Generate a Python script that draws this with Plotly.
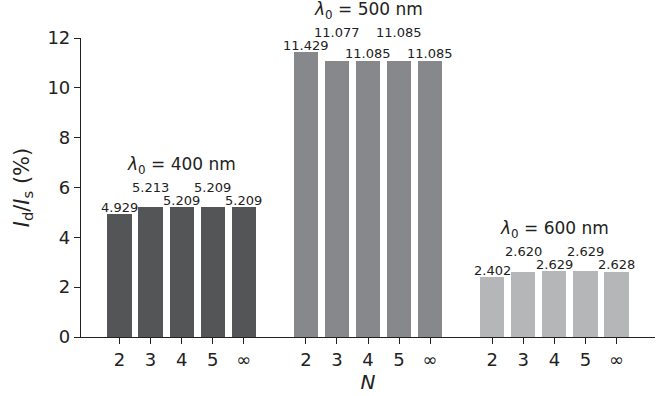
import plotly.graph_objects as go

# ---- data ----
n_labels = ["2", "3", "4", "5", "∞"]
groups = ["400", "500", "600"]
vals_400 = [4.929, 5.213, 5.209, 5.209, 5.209]
vals_500 = [11.429, 11.077, 11.085, 11.085, 11.085]
vals_600 = [2.402, 2.620, 2.629, 2.629, 2.628]
series = [vals_400, vals_500, vals_600]
colors = ["#545557", "#87888b", "#b5b6b8"]

FONT = "DejaVu Sans"
fig = go.Figure()
annotations = []
tickvals, ticktext = [], []
for g, (name, vals, col) in enumerate(zip(groups, series, colors)):
    xs = [g * 6 + i for i in range(len(vals))]
    tickvals += xs
    ticktext += n_labels
    fig.add_trace(go.Bar(x=xs, y=vals, width=0.78, marker=dict(color=col, line=dict(width=0)),
                         showlegend=False, hoverinfo="skip"))
    gmax = max(vals)
    for i, (x, v) in enumerate(zip(xs, vals)):
        if i % 2 == 0:
            annotations.append(dict(x=x, y=v, xref="x", yref="y", text=f"{v:.3f}", showarrow=False,
                                    yanchor="middle", yshift=7, font=dict(family=FONT, size=13, color="#222")))
        else:
            annotations.append(dict(x=x, y=gmax, xref="x", yref="y", text=f"{v:.3f}", showarrow=False,
                                    yanchor="middle", yshift=20, font=dict(family=FONT, size=13, color="#222")))
    annotations.append(dict(x=xs[2], y=gmax, xref="x", yref="y",
                            text=f"<i>λ</i><sub>0</sub> = {name} nm", showarrow=False,
                            yanchor="middle", yshift=42, font=dict(family=FONT, size=17, color="#222")))

fig.update_layout(
    width=659, height=396,
    margin=dict(l=81, r=4, t=38, b=59),
    plot_bgcolor="white", paper_bgcolor="white",
    font=dict(family=FONT, size=18, color="#222"),
    annotations=annotations,
    bargap=0,
)
fig.update_xaxes(range=[-1.24, 17.24], tickmode="array", tickvals=tickvals, ticktext=ticktext,
                 showline=True, linecolor="#222", linewidth=1.2, ticks="outside", ticklen=6,
                 tickwidth=1.2, tickcolor="#222", showgrid=False, zeroline=False,
                 tickfont=dict(size=18),
                 title=dict(text="<i>N</i>", font=dict(size=20), standoff=3))
fig.update_yaxes(range=[0, 12], tickvals=[0, 2, 4, 6, 8, 10, 12],
                 showline=True, linecolor="#222", linewidth=1.2, ticks="outside", ticklen=6,
                 tickwidth=1.2, tickcolor="#222", showgrid=False, zeroline=False,
                 tickfont=dict(size=18),
                 title=dict(text="<i>I</i><sub>d</sub>/<i>I</i><sub>s</sub> (%)", font=dict(size=21), standoff=12))

fig.write_html("out.html")
